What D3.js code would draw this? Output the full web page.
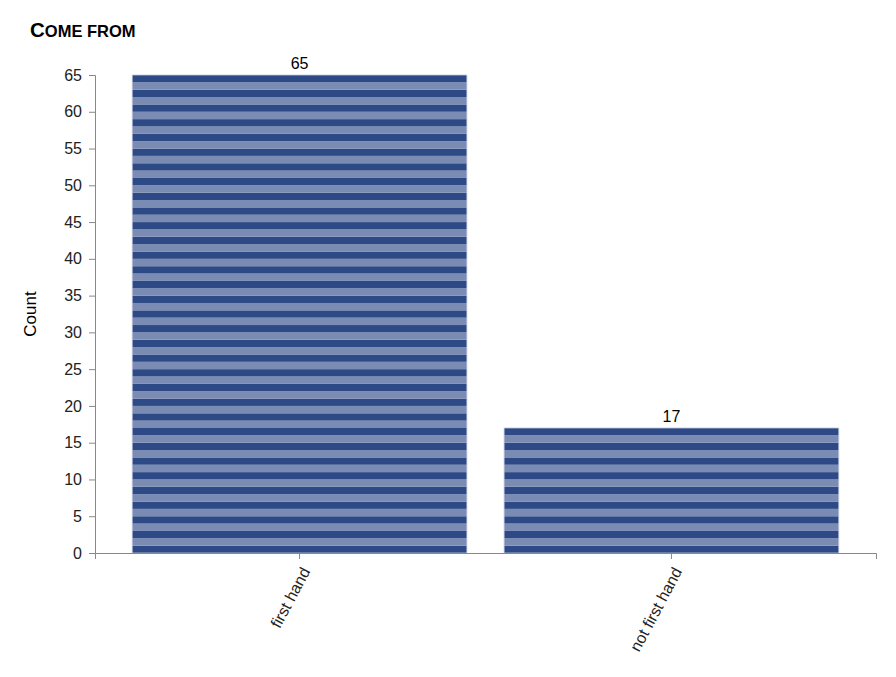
<!DOCTYPE html>
<html>
<head>
<meta charset="utf-8">
<script src="https://cdn.jsdelivr.net/npm/d3@7"></script>
<style>
  body { margin: 0; background: #fff; }
  svg { font-family: "Liberation Sans", Arial, sans-serif; }
</style>
</head>
<body>
<svg id="chart"></svg>
<script>
const categories = ["first hand", "not first hand"]
const counts = [65, 17]
const yTicks = [0, 5, 10, 15, 20, 25, 30, 35, 40, 45, 50, 55, 60, 65]
const title = "Come from"
const yLabel = "Count"

const W = 896, H = 677
const margin = { top: 75, right: 20, bottom: 124, left: 95 }
const w = W - margin.left - margin.right
const h = H - margin.top - margin.bottom

const svg = d3.select("#chart").attr("width", W).attr("height", H)

// small caps by hand: first letter big, rest smaller and uppercased
const t = svg.append("text")
    .attr("x", 30)
    .attr("y", 37)
    .style("font-weight", "bold")
t.append("tspan").style("font-size", "20.5px").text(title.slice(0, 1))
t.append("tspan").style("font-size", "16.5px").style("text-transform", "uppercase").text(title.slice(1))

const g = svg.append("g").attr("transform", "translate(" + margin.left + "," + margin.top + ")")

const x = d3.scaleBand().domain(categories).range([0, w]).padding(0.1)
const y = d3.scaleLinear().domain([0, 65]).range([h, 0])

// one stripe per counted unit, alternating dark / light
const bars = g.selectAll(".bar")
    .data(categories.map((c, i) => ({ cat: c, value: counts[i] })))
    .join("g")
    .attr("class", "bar")

bars.selectAll("rect")
    .data(d => d3.range(d.value).map(k => ({ cat: d.cat, k: k })))
    .join("rect")
    .attr("x", d => x(d.cat))
    .attr("width", x.bandwidth())
    .attr("y", d => y(d.k + 1))
    .attr("height", d => y(d.k) - y(d.k + 1))
    .attr("fill", d => d.k % 2 === 0 ? "#2d4a86" : "#7a8bb4")

bars.append("rect")
    .attr("x", d => x(d.cat))
    .attr("width", x.bandwidth())
    .attr("y", d => y(d.value))
    .attr("height", d => h - y(d.value))
    .attr("fill", "none")
    .attr("stroke", "#c3cbe0")
    .attr("stroke-width", 0.8)

bars.append("text")
    .attr("x", d => x(d.cat) + x.bandwidth() / 2)
    .attr("y", d => y(d.value) - 6)
    .attr("text-anchor", "middle")
    .style("font-size", "16px")
    .attr("fill", "#000")
    .text(d => d.value)

const yAxis = g.append("g")
    .attr("font-size", 16)
    .call(d3.axisLeft(y).tickValues(yTicks).tickSize(6).tickPadding(7))
yAxis.attr("font-size", 16).attr("font-family", "Liberation Sans, Arial, sans-serif")
yAxis.selectAll("path, line").attr("stroke", "#888")
yAxis.selectAll("text").attr("fill", "#222")

const xAxis = g.append("g")
    .attr("transform", "translate(0," + h + ")")
    .call(d3.axisBottom(x).tickSize(6))
xAxis.attr("font-size", 16).attr("font-family", "Liberation Sans, Arial, sans-serif")
xAxis.selectAll("path, line").attr("stroke", "#888")
xAxis.selectAll("text")
    .attr("fill", "#222")
    .attr("text-anchor", "end")
    .attr("dy", "0.35em")
    .attr("transform", "translate(8,12) rotate(-62)")
    .attr("y", 0)
    .attr("x", -4)

svg.append("text")
    .attr("transform", "translate(36," + (margin.top + h / 2) + ") rotate(-90)")
    .attr("text-anchor", "middle")
    .style("font-size", "17px")
    .text(yLabel)
</script>
</body>
</html>
